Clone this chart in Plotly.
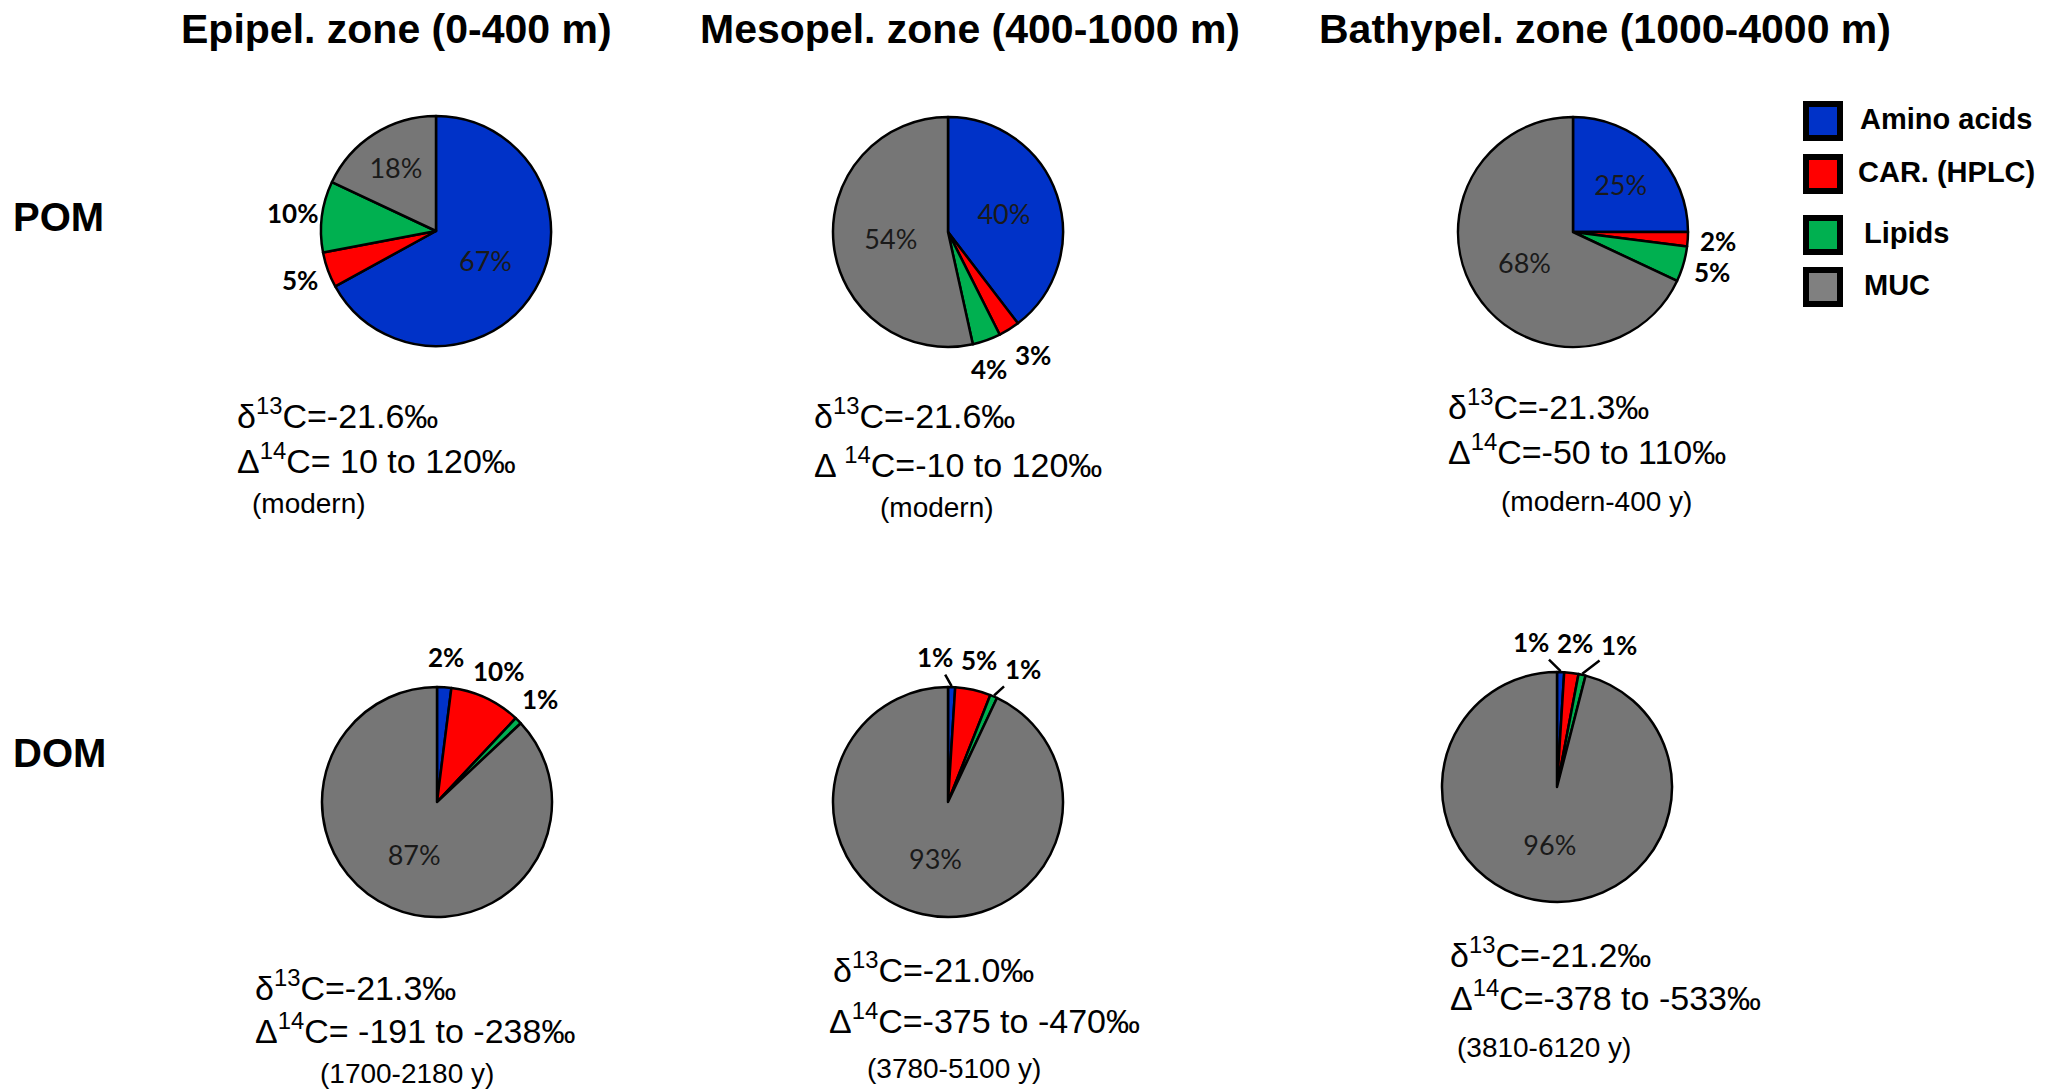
import math
import plotly.graph_objects as go

# ---- data -------------------------------------------------------------
categories = ["Amino acids", "CAR. (HPLC)", "Lipids", "MUC"]
zones = ["Epipel. zone (0-400 m)", "Mesopel. zone (400-1000 m)", "Bathypel. zone (1000-4000 m)"]
fractions = ["POM", "DOM"]

pom_values = [[67, 5, 10, 18], [40, 3, 4, 54], [25, 2, 5, 68]]
dom_values = [[2, 10, 1, 87], [1, 5, 1, 93], [1, 2, 1, 96]]

pom_d13c = ["δ<sup>13</sup>C=-21.6‰", "δ<sup>13</sup>C=-21.6‰", "δ<sup>13</sup>C=-21.3‰"]
pom_d14c = ["Δ<sup>14</sup>C= 10 to 120‰", "Δ <sup>14</sup>C=-10 to 120‰", "Δ<sup>14</sup>C=-50 to 110‰"]
pom_age = ["(modern)", "(modern)", "(modern-400 y)"]

dom_d13c = ["δ<sup>13</sup>C=-21.3‰", "δ<sup>13</sup>C=-21.0‰", "δ<sup>13</sup>C=-21.2‰"]
dom_d14c = ["Δ<sup>14</sup>C= -191 to -238‰", "Δ<sup>14</sup>C=-375 to -470‰", "Δ<sup>14</sup>C=-378 to -533‰"]
dom_age = ["(1700-2180 y)", "(3780-5100 y)", "(3810-6120 y)"]

# ---- styling / layout ------------------------------------------------
W, H = 2058, 1091
colors = ["#0032C8", "#FF0000", "#00B050", "#767676"]
legend_colors = ["#0032C8", "#FF0000", "#00B050", "#808080"]
R = 115
INSIDE_MIN = 15          # slices at least this large carry their label inside
LABEL_FS = 26            # outside label font size
LABEL_GAP = 30           # distance of outside label centres beyond the rim
pie_centers = {
    "POM": [(436, 231), (948, 232), (1573, 232)],
    "DOM": [(437, 802), (948, 802), (1557, 787)],
}
text_pos = {
    "POM": [[(235, 413), (235, 458), (250, 503)],
            [(812, 413), (812, 463), (878, 507)],
            [(1446, 404), (1446, 450), (1499, 501)]],
    "DOM": [[(253, 985), (253, 1028), (318, 1073)],
            [(831, 967), (827, 1018), (865, 1068)],
            [(1448, 952), (1448, 995), (1455, 1047)]],
}
title_x = [396, 970, 1605]
row_y = {"POM": 217, "DOM": 753}

TEXT_FONT = "Liberation Sans, Arial, sans-serif"
LABEL_FONT = "Lato, sans-serif"


def px(x):
    return x / W


def py(y):
    return 1 - y / H


def outside_labels(cx, cy, vals):
    """Place labels of the small slices radially outside the rim and
    push overlapping ones apart horizontally."""
    total = float(sum(vals))
    items, cum = [], 0.0
    for v in vals:
        mid = (cum + v / 2.0) / total * 2 * math.pi
        cum += v
        if v >= INSIDE_MIN:
            continue
        s, c = math.sin(mid), math.cos(mid)
        lx, ly = cx + (R + LABEL_GAP) * s, cy - (R + LABEL_GAP) * c
        txt = f"{v}%"
        width = (0.58 * (len(txt) - 1) + 0.88) * LABEL_FS
        items.append(dict(text=txt, lx=lx, ly=ly, x0=lx, y0=ly,
                          ex=cx + (R + 1) * s, ey=cy - (R + 1) * c, w=width))
    for _ in range(60):
        moved = False
        items.sort(key=lambda d: d["lx"])
        for a, b in zip(items, items[1:]):
            need = (a["w"] + b["w"]) / 2 + 6
            if b["lx"] - a["lx"] < need and abs(b["ly"] - a["ly"]) < LABEL_FS:
                shift = (need - (b["lx"] - a["lx"])) / 2
                a["lx"] -= shift
                b["lx"] += shift
                moved = True
        if not moved:
            break
    return items


fig = go.Figure()
annotations = []

for frac, values_list in (("POM", pom_values), ("DOM", dom_values)):
    for i, vals in enumerate(values_list):
        cx, cy = pie_centers[frac][i]
        positions = ["inside" if v >= INSIDE_MIN else "none" for v in vals]
        fig.add_trace(go.Pie(
            labels=categories,
            values=vals,
            sort=False,
            direction="clockwise",
            rotation=0,
            domain=dict(x=[px(cx - R), px(cx + R)], y=[py(cy + R), py(cy - R)]),
            marker=dict(colors=colors, line=dict(color="black", width=2.5)),
            texttemplate="%{value}%",
            textposition=positions,
            insidetextorientation="horizontal",
            insidetextfont=dict(family=LABEL_FONT, size=27, color="#1a1a1a"),
            hoverinfo="label+value",
            showlegend=False,
        ))
        for it in outside_labels(cx, cy, vals):
            moved = math.hypot(it["lx"] - it["x0"], it["ly"] - it["y0"]) > 14
            font = dict(family=LABEL_FONT, size=LABEL_FS, color="black")
            if moved:
                annotations.append(dict(
                    x=px(it["ex"]), y=py(it["ey"]), xref="paper", yref="paper",
                    ax=it["lx"] - it["ex"], ay=it["ly"] - it["ey"],
                    text=f"<b>{it['text']}</b>", showarrow=True, arrowhead=0,
                    arrowwidth=2.5, arrowcolor="black", standoff=0,
                    font=font))
            else:
                annotations.append(dict(
                    x=px(it["lx"]), y=py(it["ly"]), xref="paper", yref="paper",
                    text=f"<b>{it['text']}</b>", showarrow=False,
                    xanchor="center", yanchor="middle", font=font))

# column titles
for zx, z in zip(title_x, zones):
    annotations.append(dict(
        x=px(zx), y=py(29), xref="paper", yref="paper", text=f"<b>{z}</b>",
        showarrow=False, xanchor="center", yanchor="middle",
        font=dict(family=TEXT_FONT, size=41, color="black")))

# row labels
for frac in fractions:
    annotations.append(dict(
        x=px(11), y=py(row_y[frac]), xref="paper", yref="paper", text=f"<b>{frac}</b>",
        showarrow=False, xanchor="left", yanchor="middle",
        font=dict(family=TEXT_FONT, size=40, color="black")))

# isotope notes under each pie
for frac, d13, d14, age in (("POM", pom_d13c, pom_d14c, pom_age),
                            ("DOM", dom_d13c, dom_d14c, dom_age)):
    for i in range(3):
        lines = [(d13[i], 34), (d14[i], 34), (age[i], 28)]
        for (txt, size), (tx, ty) in zip(lines, text_pos[frac][i]):
            annotations.append(dict(
                x=px(tx), y=py(ty), xref="paper", yref="paper", text=txt,
                showarrow=False, xanchor="left", yanchor="middle",
                font=dict(family=TEXT_FONT, size=size, color="black")))

# legend: swatches with heavy black borders
shapes = []
legend_rows = [121, 174, 235, 287]
legend_text_x = [1858, 1856, 1862, 1862]
for name, col, ly, lx in zip(categories, legend_colors, legend_rows, legend_text_x):
    shapes.append(dict(
        type="rect", xref="paper", yref="paper",
        x0=px(1806), x1=px(1840), y0=py(ly + 17), y1=py(ly - 17),
        fillcolor=col, line=dict(color="black", width=6)))
    annotations.append(dict(
        x=px(lx), y=py(ly - 2), xref="paper", yref="paper", text=f"<b>{name}</b>",
        showarrow=False, xanchor="left", yanchor="middle",
        font=dict(family=TEXT_FONT, size=29, color="black")))

fig.update_layout(
    width=W, height=H,
    margin=dict(l=0, r=0, t=0, b=0),
    paper_bgcolor="white", plot_bgcolor="white",
    annotations=annotations, shapes=shapes,
    showlegend=False,
)

fig.write_html("out.html")
